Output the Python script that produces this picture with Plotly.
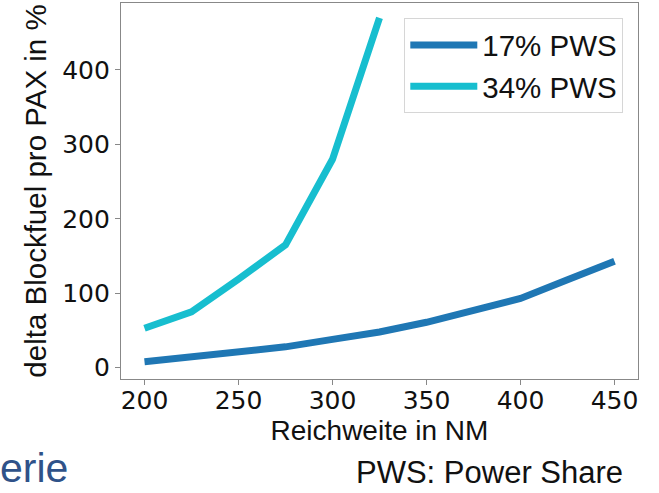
import plotly.graph_objects as go

# Data
range_nm = [200, 225, 250, 275, 300, 325, 350, 375, 400, 425, 450]
pws17 = [8, 14, 20, 28, 38, 48, 61, 76, 93, 118, 143]
range_nm_34 = [200, 225, 250, 275, 300, 325]
pws34 = [53, 75, 119, 165, 280, 470]
series_names = ["17% PWS", "34% PWS"]
x_ticks = [200, 250, 300, 350, 400, 450]
y_ticks = [0, 100, 200, 300, 400]

SANS = "Liberation Sans, Arial, sans-serif"
TICKFONT = "DejaVu Sans, sans-serif"

fig = go.Figure()
fig.add_trace(go.Scatter(x=range_nm, y=pws17, mode="lines", name=series_names[0],
                         line=dict(color="#1f77b4", width=7), legendgroup="a"))
fig.add_trace(go.Scatter(x=range_nm_34, y=pws34, mode="lines", name=series_names[1],
                         line=dict(color="#17becf", width=7), legendgroup="b"))

axis_common = dict(showline=True, linecolor="#888888", linewidth=1.2, mirror=True,
                   showgrid=False, zeroline=False, ticks="outside", ticklen=5,
                   tickcolor="#888888", tickfont=dict(family=TICKFONT, size=25, color="#111111"))

fig.update_xaxes(range=[187.5, 462.5], tickvals=x_ticks, ticklabelstandoff=-6,
                 title=dict(text="Reichweite in NM", font=dict(family=SANS, size=28, color="#111111"), standoff=5),
                 **axis_common)
fig.update_yaxes(range=[-15.2, 490], tickvals=y_ticks,
                 title=dict(text="delta Blockfuel pro PAX in %", font=dict(family=SANS, size=29.5, color="#111111"), standoff=6),
                 **axis_common)

fig.add_annotation(text="PWS: Power Share", xref="paper", yref="paper",
                   x=(354 - 121) / 517, y=-(492 - 379) / 376, xanchor="left", yanchor="bottom",
                   showarrow=False, font=dict(family=SANS, size=31, color="#111111"))
fig.add_annotation(text="erie", xref="paper", yref="paper",
                   x=-123 / 517, y=-(468 - 379) / 376, xanchor="left", yanchor="middle",
                   showarrow=False, font=dict(family=SANS, size=41, color="#2F5289"))

fig.update_layout(
    width=659, height=493,
    margin=dict(l=121, r=21, t=3, b=114),
    paper_bgcolor="white", plot_bgcolor="white",
    showlegend=True,
    legend=dict(x=(623.3 - 121) / 517, y=(379 - 18.3) / 376, xanchor="right", yanchor="top",
                bgcolor="white", bordercolor="#d6d6d6", borderwidth=1,
                font=dict(family=SANS, size=29.5, color="#111111"),
                itemwidth=67, tracegroupgap=6, traceorder="normal"),
)

fig.write_html("out.html")
